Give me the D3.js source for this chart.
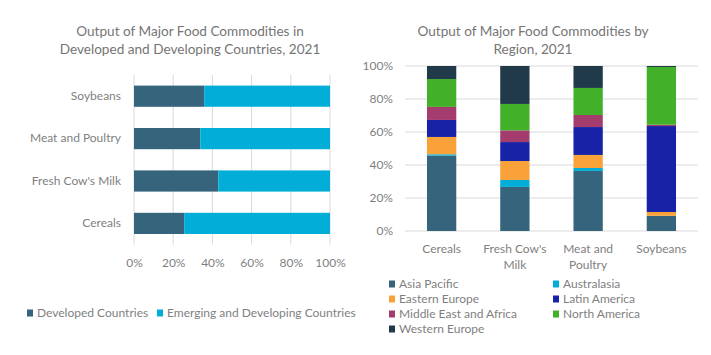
<!DOCTYPE html>
<html><head><meta charset="utf-8">
<script src="https://cdn.jsdelivr.net/npm/d3@7"></script>
<style>
body{margin:0;background:#fff;}
svg{display:block;font-family:Lato, "Open Sans", sans-serif;}
</style></head>
<body><svg id="c" width="711" height="355"></svg>
<script>
// ---- Left chart data ----
const leftCategories = ["Soybeans", "Meat and Poultry", "Fresh Cow's Milk", "Cereals"];
const developed = [35.8, 33.8, 43.0, 25.6];
const emerging = [64.2, 66.2, 57.0, 74.4];
const leftSeries = ["Developed Countries", "Emerging and Developing Countries"];
const leftColors = ["#35647c", "#02aed8"];
const pctTicks = [0, 20, 40, 60, 80, 100];

// ---- Right chart data ----
const rightCategories = ["Cereals", "Fresh Cow's Milk", "Meat and Poultry", "Soybeans"];
const rightCatLines = [["Cereals"], ["Fresh Cow's", "Milk"], ["Meat and", "Poultry"], ["Soybeans"]];
const regions = ["Asia Pacific", "Australasia", "Eastern Europe", "Latin America", "Middle East and Africa", "North America", "Western Europe"];
const asiaPacific = [45.7, 26.7, 36.4, 9.1];
const australasia = [0.8, 4.2, 1.8, 0.1];
const easternEurope = [10.5, 11.5, 7.9, 2.3];
const latinAmerica = [10.3, 11.5, 16.9, 52.1];
const middleEastAfrica = [7.9, 7.1, 7.3, 0.8];
const northAmerica = [16.9, 16.0, 16.4, 35.0];
const westernEurope = [7.9, 23.0, 13.3, 0.6];
const regionColors = ["#35647c", "#02aed8", "#f9a23a", "#1722a6", "#a43d6e", "#43b02a", "#203a4a"];

const textColor = "#7f7f7f";
const gridColor = "#d9d9d9";
const fs = "12px";
const svg = d3.select("#c");

// ================= LEFT CHART =================
const L = {x0: 134, x1: 330, y0: 75, y1: 244.6};
const lx = d3.scaleLinear().domain([0, 100]).range([L.x0, L.x1]);
const ly = d3.scaleBand().domain(leftCategories).range([L.y0, L.y1]).paddingInner(0.5).paddingOuter(0.25);

const lTitle = svg.append("text").attr("text-anchor", "middle")
  .attr("fill", "#757575").style("font-size", "13.6px");
lTitle.append("tspan").attr("x", 190).attr("y", 36).text("Output of Major Food Commodities in");
lTitle.append("tspan").attr("x", 190).attr("y", 54).text("Developed and Developing Countries, 2021");

const lg = svg.append("g");
lg.append("g").selectAll("line").data(pctTicks).join("line")
  .attr("x1", d => lx(d)).attr("x2", d => lx(d)).attr("y1", L.y0).attr("y2", L.y1)
  .attr("stroke", gridColor).attr("stroke-width", 1);

const leftRows = leftCategories.map((c, i) => ({cat: c, developed: developed[i], emerging: emerging[i]}));
const lStack = d3.stack().keys(["developed", "emerging"])(leftRows);
lg.selectAll("g.s").data(lStack).join("g").attr("class", "s")
  .attr("fill", (d, i) => leftColors[i])
  .selectAll("rect").data(d => d).join("rect")
  .attr("x", d => lx(d[0])).attr("width", d => lx(d[1]) - lx(d[0]))
  .attr("y", d => ly(d.data.cat)).attr("height", ly.bandwidth());

const lxAxis = d3.axisBottom(lx).tickValues(pctTicks).tickFormat(d => d + "%").tickSize(0).tickPadding(0);
const lxa = svg.append("g").attr("transform", `translate(0,${L.y1 + 22})`).call(lxAxis);
lxa.select(".domain").remove();
lxa.selectAll("text").attr("fill", textColor).style("font-size", fs).style("font-family", "Lato").attr("dy", "0");

const lyAxis = d3.axisLeft(ly).tickSize(0).tickPadding(0);
const lya = svg.append("g").attr("transform", `translate(${L.x0 - 13},0)`).call(lyAxis);
lya.select(".domain").remove();
lya.selectAll("text").attr("fill", textColor).style("font-size", fs).style("font-family", "Lato");

// left legend
const lLeg = svg.append("g").attr("transform", "translate(0,313)");
const lLegX = [27, 157];
leftSeries.forEach((s, i) => {
  lLeg.append("rect").attr("x", lLegX[i]).attr("y", -3.5).attr("width", 6).attr("height", 7).attr("fill", leftColors[i]);
  lLeg.append("text").attr("x", lLegX[i] + 10).attr("y", 0).attr("dy", "0.35em")
    .attr("fill", textColor).style("font-size", fs).text(s);
});

// ================= RIGHT CHART =================
const R = {x0: 405, x1: 698, y0: 66, y1: 231};
const rx = d3.scaleBand().domain(rightCategories).range([R.x0, R.x1]).paddingInner(0.6).paddingOuter(0.3);
const ry = d3.scaleLinear().domain([0, 100]).range([R.y1, R.y0]);

const rTitle = svg.append("text").attr("text-anchor", "middle").attr("fill", "#757575").style("font-size", "13.6px");
rTitle.append("tspan").attr("x", 533).attr("y", 36).text("Output of Major Food Commodities by");
rTitle.append("tspan").attr("x", 533).attr("y", 54).text("Region, 2021");

const rg = svg.append("g");
rg.append("g").selectAll("line").data(pctTicks).join("line")
  .attr("x1", R.x0).attr("x2", R.x1).attr("y1", d => ry(d)).attr("y2", d => ry(d))
  .attr("stroke", gridColor).attr("stroke-width", 1);

const regionArrays = [asiaPacific, australasia, easternEurope, latinAmerica, middleEastAfrica, northAmerica, westernEurope];
const rightRows = rightCategories.map((c, i) => {
  const o = {cat: c};
  regions.forEach((r, j) => o[r] = regionArrays[j][i]);
  return o;
});
const rStack = d3.stack().keys(regions)(rightRows);
rg.selectAll("g.s").data(rStack).join("g").attr("class", "s")
  .attr("fill", (d, i) => regionColors[i])
  .selectAll("rect").data(d => d).join("rect")
  .attr("x", d => rx(d.data.cat)).attr("width", rx.bandwidth())
  .attr("y", d => ry(d[1])).attr("height", d => ry(d[0]) - ry(d[1]));

const ryAxis = d3.axisLeft(ry).tickValues(pctTicks).tickFormat(d => d + "%").tickSize(0).tickPadding(0);
const rya = svg.append("g").attr("transform", `translate(${R.x0 - 12},0)`).call(ryAxis);
rya.select(".domain").remove();
rya.selectAll("text").attr("fill", textColor).style("font-size", fs).style("font-family", "Lato");

const rxa = svg.append("g");
rightCategories.forEach((c, i) => {
  const t = rxa.append("text").attr("text-anchor", "middle").attr("fill", textColor).style("font-size", fs);
  rightCatLines[i].forEach((line, k) => {
    t.append("tspan").attr("x", rx(c) + rx.bandwidth() / 2).attr("y", 253 + k * 16).text(line);
  });
});

// right legend
const rLeg = svg.append("g");
regions.forEach((r, i) => {
  const col = i % 2, row = Math.floor(i / 2);
  const x = col === 0 ? 389 : 553;
  const y = 284 + row * 15;
  rLeg.append("rect").attr("x", x).attr("y", y - 3.5).attr("width", 6).attr("height", 7).attr("fill", regionColors[i]);
  rLeg.append("text").attr("x", x + 10).attr("y", y).attr("dy", "0.35em")
    .attr("fill", textColor).style("font-size", fs).text(r);
});
</script></body></html>
